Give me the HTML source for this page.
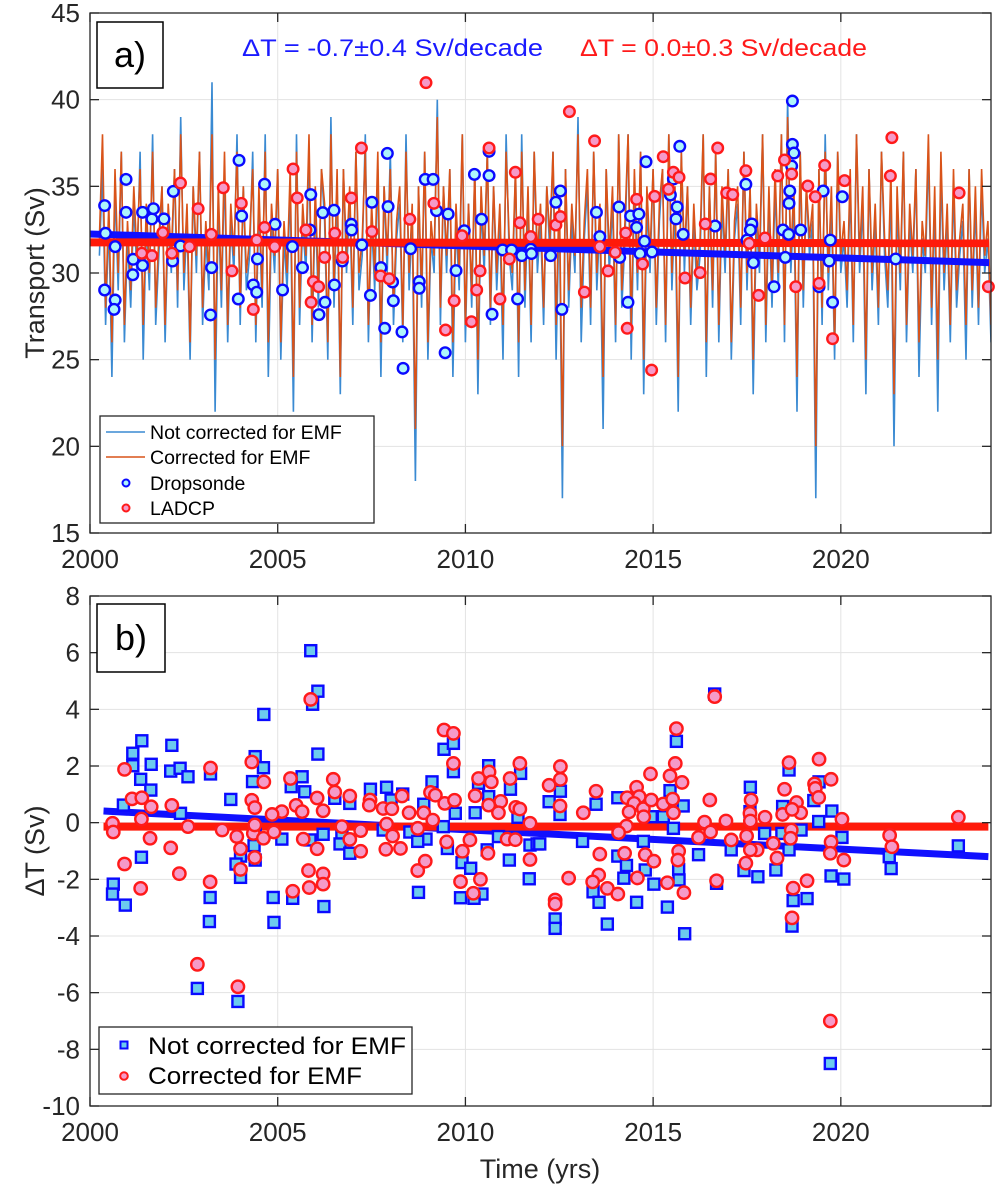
<!DOCTYPE html>
<html><head><meta charset="utf-8">
<style>
html,body{margin:0;padding:0;background:#fff;}
svg{display:block;font-family:"Liberation Sans",Arial,sans-serif;}
</style></head>
<body>
<svg id="fig" width="1000" height="1189" viewBox="0 0 1000 1189" xmlns="http://www.w3.org/2000/svg"></svg>
<script>
// ---------- data ----------
const xTicks = [2000, 2005, 2010, 2015, 2020];
const yTicksA = [15, 20, 25, 30, 35, 40, 45];
const yTicksB = [-10, -8, -6, -4, -2, 0, 2, 4, 6, 8];
const seriesStart = 2000.25;
const seriesStep = 1/12;
const notCorrected = [
31,36,27,33,24,35,29,37,26,32,28,34, 30,37,25,33,29,38,27,31,35,26,33,30,
36,28,39,29,33,25,35,30,37,27,32,29, 41,22,34,28,36,26,33,30,38,27,35,29,
31,37,26,34,28,38,24,33,30,36,25,32, 29,35,22,38,27,33,30,37,26,34,28,36,
33,25,39,28,35,23,36,30,34,27,37,29, 31,38,26,33,29,36,24,35,30,37,27,32,
34,26,38,29,33,18,35,28,37,25,32,30, 40,27,35,30,36,24,33,29,38,26,34,28,
36,23,34,30,37,27,35,29,33,25,38,31, 29,36,24,38,28,34,26,37,30,33,27,35,
31,37,25,34,17,36,28,33,30,39,26,32, 35,27,37,29,33,21,36,30,34,26,38,28,
32,38,25,35,29,37,23,34,30,36,27,33, 36,26,38,29,34,22,37,30,35,27,33,29,
31,38,24,35,28,37,26,34,30,36,25,32, 34,27,37,29,35,23,33,30,38,26,34,28,
35,29,38,26,40,30,34,22,37,28,35,31, 33,17,36,27,38,29,34,25,37,30,32,28,
35,26,38,30,34,23,36,29,33,27,37,31, 28,35,20,34,29,37,26,33,30,36,24,32,
30,37,27,34,22,36,29,33,26,35,28,31, 33,25,36,28,34,27,35,30,32,26,34,29];
const corrected = [
32,38,28,34,26,36,30,37,27,33,29,35, 31,36,27,34,30,37,28,32,35,27,34,31,
36,29,38,30,34,26,35,31,37,28,33,30, 38,25,35,29,37,27,34,31,37,28,35,30,
32,36,27,35,29,37,26,34,31,36,26,33, 30,36,24,37,28,34,31,38,27,35,29,36,
34,26,38,29,36,24,36,31,35,28,37,30, 32,37,27,34,30,37,26,35,31,36,28,33,
35,27,37,30,34,21,35,29,37,26,33,31, 39,28,35,31,36,26,34,30,38,27,34,29,
36,25,35,31,37,28,35,30,34,27,37,32, 30,36,26,37,29,35,27,37,31,34,28,35,
32,37,27,35,20,36,29,34,31,38,28,33, 36,28,37,30,34,24,36,31,35,27,38,29,
33,38,27,36,30,37,25,35,31,36,28,34, 36,27,38,30,35,24,37,31,35,28,34,30,
32,38,26,35,29,37,27,35,31,36,26,33, 35,28,37,30,35,25,34,31,38,27,35,29,
36,30,38,27,39,31,35,24,37,29,35,32, 34,20,36,28,37,30,35,26,37,31,33,29,
36,27,38,31,35,25,36,30,34,28,37,32, 29,36,23,35,30,37,27,34,31,36,26,33,
31,38,28,35,25,37,30,34,27,36,29,32, 34,27,36,29,35,28,36,31,33,27,35,30];

const dropYears = [2000.39,2000.41,2000.39,2000.67,2000.67,2000.64,2000.96,2000.96,2001.15,2001.14,2001.4,2001.4,2001.65,2001.69,2001.97,2002.22,2002.2,2002.41,2003.24,2003.21,2003.97,2004.04,2003.95,2004.35,2004.44,2004.46,2004.65,2004.93,2005.13,2005.39,2005.66,2005.88,2005.86,2006.2,2006.5,2006.51,2006.26,2006.1,2006.72,2006.96,2006.97,2007.24,2007.51,2007.47,2007.92,2007.94,2007.75,2008.06,2008.08,2007.85,2008.31,2008.34,2008.54,2008.93,2009.14,2009.23,2009.54,2008.77,2008.77,2009.46,2009.75,2009.97,2010.24,2010.43,2010.63,2010.63,2010.71,2010.99,2011.23,2011.5,2011.39,2011.74,2011.76,
2012.53,2012.41,2012.27,2012.57,2013.49,2013.58,2014.09,2014.4,2014.62,2014.56,2014.11,2014.33,2014.65,2014.77,2014.97,2014.81,2015.46,2015.54,2015.64,2015.61,2015.8,2015.71,2016.65,2017.47,2017.63,2017.59,2017.5,2017.67,2018.22,2018.46,2018.61,2018.62,2018.64,2018.93,2018.52,2018.71,2018.71,2018.75,2018.69,2019.42,2019.53,2019.69,2019.72,2019.78,2020.04,2021.46];
const dropValues = [33.89,32.29,29.02,31.52,28.44,27.9,35.4,33.5,30.79,29.9,30.44,33.5,33.12,33.71,33.12,34.71,30.69,31.56,30.31,27.58,36.5,33.29,28.5,29.31,28.89,30.81,35.12,32.81,29.02,31.52,30.31,34.52,32.48,33.48,33.62,29.31,28.31,27.6,30.69,32.81,32.48,31.62,34.08,28.71,36.9,33.83,30.31,29.48,28.4,26.81,26.6,24.5,31.4,35.4,35.4,33.6,33.4,29.5,29.12,25.4,30.14,32.44,35.69,33.1,35.62,37.02,27.62,31.33,31.33,31.0,28.5,31.37,31.12,
34.73,34.08,31.0,27.9,33.5,32.1,33.81,33.29,33.4,32.63,30.9,28.31,31.12,31.83,31.21,36.42,34.5,35.42,33.81,33.12,32.23,37.31,32.71,35.12,32.83,32.48,31.9,30.6,29.21,32.48,32.23,34.02,34.73,32.48,30.9,39.92,37.42,36.92,36.17,29.21,34.73,30.69,31.9,28.31,34.4,30.81];

const ladcpYears = [2008.95,2007.23,2005.41,2005.52,2006.96,2010.63,2011.33,2002.41,2003.55,2002.88,2004.03,2009.16,2001.94,2003.23,2004.44,2004.65,2005.75,2006.52,2007.51,2008.52,2009.91,2011.45,2011.74,2011.94,2001.38,2001.65,2002.18,2002.65,2004.92,2006.25,2006.73,2003.78,2004.35,2005.95,2006.09,2005.89,2007.74,2007.97,2010.39,2010.3,2009.7,2010.92,2011.17,2009.47,2010.16,
2012.77,2013.44,2012.41,2012.53,2013.58,2013.17,2013.8,2013.99,2014.27,2014.56,2014.31,2014.72,2014.96,2015.04,2015.27,2015.41,2015.54,2015.69,2015.85,2016.25,2016.39,2016.53,2016.72,2016.96,2017.12,2017.47,2017.56,2017.98,2017.81,2018.32,2018.5,2018.69,2018.8,2019.12,2019.32,2019.42,2019.57,2019.78,2020.1,2021.32,2021.36,2023.15,2023.93];
const ladcpValues = [40.98,37.21,36.0,34.33,34.33,37.21,35.81,35.19,34.92,33.71,34.02,34.02,32.33,32.23,31.9,32.63,32.48,32.29,32.39,33.1,32.15,32.9,32.1,33.1,31.14,31.0,31.14,31.52,31.52,30.9,30.9,30.12,27.9,29.5,29.21,28.31,29.83,29.67,30.12,29.02,28.4,28.5,30.81,26.71,27.19,
39.31,37.62,32.77,33.25,31.52,28.9,30.12,31.19,32.31,34.25,26.81,30.52,24.4,34.42,36.71,34.83,35.81,35.52,29.71,30.02,32.83,35.42,37.21,34.62,34.52,35.9,31.71,32.02,28.71,35.6,36.52,35.71,29.21,35.02,34.4,29.4,36.21,26.21,35.33,35.6,37.81,34.62,29.21];

const trendYearsA = [2000.0, 2023.95];
const trendNotCorrA = [32.25, 30.6];
const trendCorrA = [31.77, 31.72];

const sqYears = [2005.88,2006.07,2005.93,2004.63,2006.07,2001.38,2001.14,2001.14,2001.63,2002.18,2002.15,2002.4,2002.61,2001.35,2001.62,2000.89,2003.21,2004.4,2004.62,2004.33,2003.75,2005.65,2005.36,2005.72,2006.52,2006.92,2007.47,2007.9,2008.33,2008.02,2009.11,2008.89,2009.43,2009.68,2009.68,2009.73,2010.62,2010.35,2010.62,2011.2,2011.47,2010.26,2011.4,2009.41,2007.81,2008.52,2008.95,2008.73,2006.21,2005.11,2006.71,2006.66,2006.92,2009.52,2009.91,2010.14,2010.58,2010.88,2011.17,2011.72,2011.91,2011.7,2010.44,2010.23,2009.87,2008.75,2006.23,2005.4,2004.88,2004.9,2003.2,2003.18,2002.86,2003.94,2004.01,2004.01,2003.89,2004.37,2004.4,2001.37,2000.62,2000.6,2000.94,2004.4,2005.86,2002.41,
2016.64,2015.62,2018.62,2012.53,2012.23,2012.52,2013.48,2014.06,2015.45,2015.8,2015.27,2014.95,2015.54,2014.74,2013.12,2011.98,2014.06,2014.29,2014.22,2014.79,2015.02,2015.68,2015.69,2013.4,2013.56,2014.56,2015.38,2012.39,2012.39,2013.78,2015.84,2016.21,2017.08,2017.59,2017.58,2017.97,2018.45,2018.43,2018.94,2018.62,2017.42,2017.79,2018.27,2018.73,2019.1,2018.7,2019.42,2019.41,2019.28,2019.76,2020.03,2019.74,2020.08,2021.29,2021.34,2023.13,2016.69,2019.72];
const sqValues = [6.07,4.64,4.18,3.82,2.42,2.89,2.45,2.01,2.06,2.73,1.82,1.92,1.62,1.53,1.15,0.62,1.72,2.33,1.94,1.45,0.82,1.62,1.27,1.09,0.86,0.68,1.18,1.25,1.01,0.8,1.44,0.65,2.59,2.8,1.8,0.33,2.01,1.39,0.92,1.18,1.74,0.35,0.19,-0.14,-0.26,-0.33,-0.58,-0.66,-0.41,-0.58,-0.49,-0.75,-1.08,-0.91,-1.41,-1.61,-0.96,-0.49,-1.32,-0.79,-0.75,-1.98,-2.52,-2.67,-2.65,-2.46,-2.96,-2.67,-2.64,-3.52,-2.64,-3.49,-5.85,-6.31,-1.93,-1.18,-1.46,-0.81,-1.32,-1.22,-2.17,-2.52,-2.91,-0.26,-0.61,0.33,
4.54,2.87,1.86,1.11,0.74,0.29,0.65,0.88,1.13,0.59,0.21,0.21,-0.2,-0.66,-0.66,-0.75,-1.18,-1.51,-1.96,-1.67,-2.17,-1.65,-2.02,-2.44,-2.81,-2.81,-2.98,-3.4,-3.73,-3.58,-3.92,-1.13,-0.96,1.25,0.39,-0.38,0.57,-0.38,-0.26,-0.96,-1.69,-1.91,-1.67,-2.75,-2.68,-3.65,1.44,0.04,0.78,0.41,-0.52,-1.88,-1.99,-1.2,-1.62,-0.82,-2.14,-8.5];

const ciYears = [2005.88,2009.43,2009.68,2009.68,2004.31,2000.92,2003.21,2004.63,2005.34,2006.48,2006.52,2006.92,2006.05,2007.46,2007.44,2007.81,2008.04,2008.31,2008.5,2008.89,2009.13,2009.07,2009.2,2009.45,2009.71,2010.35,2010.63,2010.69,2011.19,2011.45,2010.26,2010.62,2010.94,2010.88,2011.34,2011.45,2001.12,2001.38,2001.63,2002.18,2004.31,2004.39,2005.11,2004.85,2005.49,2005.65,2006.21,2000.6,2000.62,2001.37,2001.6,2002.15,2002.61,2003.52,2003.91,2004.01,2004.35,2004.62,2004.9,2005.68,2006.05,2006.71,2006.92,2007.21,2007.21,2007.88,2008.27,2008.06,2008.73,2009.5,2009.92,2010.12,2010.6,2011.11,2011.33,2011.72,2011.72,2000.92,2002.38,2003.2,2004.01,2004.39,2005.82,2006.21,2006.21,2005.84,2005.4,2001.35,2008.73,2008.93,2009.87,2010.21,2010.4,2002.86,2003.94,2004.39,2007.9,
2016.64,2015.62,2015.59,2018.62,2019.42,2012.53,2012.53,2012.23,2012.52,2013.14,2013.48,2014.31,2014.56,2014.63,2014.49,2014.36,2014.74,2014.75,2014.95,2014.93,2015.27,2015.45,2015.52,2015.77,2015.54,2016.51,2016.37,2016.94,2017.61,2017.58,2017.59,2017.98,2018.5,2018.45,2018.82,2018.93,2018.7,2019.3,2019.32,2019.41,2019.74,2020.03,2023.13,2014.29,2014.08,2016.53,2016.21,2017.08,2017.49,2018.2,2018.68,2018.66,2021.3,2021.36,2019.74,2019.72,2020.08,2018.3,2017.77,2017.47,2013.58,2014.24,2014.79,2015.02,2015.68,2015.66,2012.75,2013.55,2013.39,2013.78,2014.06,2014.58,2015.38,2015.82,2016.69,2012.39,2012.39,2018.73,2019.1,2018.7,2017.59,2019.72];
const ciValues = [4.35,3.27,3.15,2.09,2.14,1.88,1.93,1.44,1.56,1.53,1.08,0.94,0.87,0.8,0.62,0.5,0.49,0.94,0.35,0.35,0.09,1.07,0.97,0.68,0.79,1.56,1.79,1.44,1.56,2.09,0.95,0.62,0.75,0.35,0.54,0.48,0.84,0.88,0.56,0.61,0.79,0.53,0.39,0.29,0.61,0.39,0.42,-0.02,-0.33,0.13,-0.55,-0.89,-0.14,-0.26,-0.49,-0.92,-0.38,-0.55,-0.33,-0.58,-0.92,-0.14,-0.59,-1.01,-0.28,-0.94,-0.91,-0.47,-0.2,-0.68,-1.01,-0.61,-1.08,-0.58,-0.6,-1.3,-0.02,-1.46,-1.8,-2.09,-1.65,-1.23,-1.69,-1.81,-2.17,-2.29,-2.42,-2.32,-1.69,-1.36,-2.08,-2.49,-2.0,-5.0,-5.79,-0.08,-0.05,
4.45,3.32,2.09,2.12,2.24,1.98,1.53,1.32,0.59,0.35,1.11,0.88,1.25,0.92,0.68,0.38,0.49,0.21,0.8,1.72,0.66,1.65,0.83,1.42,0.35,0.8,0.02,0.06,0.8,0.33,0.06,0.19,1.18,0.29,0.71,0.35,0.47,1.37,1.21,0.89,1.53,0.12,0.19,-0.12,-0.35,-0.33,-0.52,-0.61,-0.47,-0.73,-0.26,-0.55,-0.45,-0.85,-0.68,-1.08,-1.32,-1.25,-0.96,-1.43,-1.11,-1.08,-1.13,-1.36,-1.01,-1.32,-1.96,-1.85,-2.09,-2.32,-2.52,-1.95,-2.12,-2.47,-2.05,-2.73,-2.87,-2.31,-2.05,-3.36,-0.96,-7.0];

const trendYearsB = [2000.36, 2023.93];
const trendNotCorrB = [0.41, -1.2];
const trendCorrB = [-0.14, -0.14];

// ---------- geometry ----------
const NS = "http://www.w3.org/2000/svg";
const svg = document.getElementById('fig');
const X0 = 90, X1 = 991, XMIN = 2000, XMAX = 2024;
const A = {top: 13, bottom: 533, min: 15, max: 45};
const B = {top: 596, bottom: 1106, min: -10, max: 8};
function sx(t){ return X0 + (t - XMIN) / (XMAX - XMIN) * (X1 - X0); }
function syA(v){ return A.bottom - (v - A.min) / (A.max - A.min) * (A.bottom - A.top); }
function syB(v){ return B.bottom - (v - B.min) / (B.max - B.min) * (B.bottom - B.top); }
function mk(tag, attrs, parent){
  const e = document.createElementNS(NS, tag);
  for (const k in attrs) e.setAttribute(k, attrs[k]);
  (parent || svg).appendChild(e);
  return e;
}
function grp(name){
  const g = mk('g', {});
  
  
  return g;
}

function axesFrame(P, sy, yTicks, pname){
  const g = grp(pname + '-grid');
  xTicks.forEach(t => {
    const l = mk('line', {x1: sx(t), x2: sx(t), y1: P.top, y2: P.bottom, stroke: '#e3e3e3', 'stroke-width': 1}, g);
    
    
  });
  yTicks.forEach(v => {
    const l = mk('line', {x1: X0, x2: X1, y1: sy(v), y2: sy(v), stroke: '#e3e3e3', 'stroke-width': 1}, g);
    
    
  });
}
function axesBox(P, sy, yTicks, pname){
  const g = grp(pname + '-axes');
  const r = mk('rect', {x: X0, y: P.top, width: X1 - X0, height: P.bottom - P.top, fill: 'none', stroke: '#262626', 'stroke-width': 1.3}, g);
  
  
  xTicks.forEach(t => {
    const a = mk('line', {x1: sx(t), x2: sx(t), y1: P.bottom, y2: P.bottom - 9, stroke: '#262626', 'stroke-width': 1.3}, g);
    
    
    const b = mk('line', {x1: sx(t), x2: sx(t), y1: P.top, y2: P.top + 9, stroke: '#262626', 'stroke-width': 1.3}, g);
    
    
    const tx = mk('text', {x: sx(t), y: P.bottom + 35, 'text-anchor': 'middle', 'font-size': 26, fill: '#262626'}, g);
    tx.textContent = t;
    
    
  });
  yTicks.forEach(v => {
    const a = mk('line', {x1: X0, x2: X0 + 9, y1: sy(v), y2: sy(v), stroke: '#262626', 'stroke-width': 1.3}, g);
    
    
    const b = mk('line', {x1: X1, x2: X1 - 9, y1: sy(v), y2: sy(v), stroke: '#262626', 'stroke-width': 1.3}, g);
    
    
    const tx = mk('text', {x: 80, y: sy(v) + 9, 'text-anchor': 'end', 'font-size': 26, fill: '#262626'}, g);
    tx.textContent = v;
    
    
  });
}

// ---------- panel a ----------
axesFrame(A, syA, yTicksA, 'panel-a');
const clipA = mk('clipPath', {id: 'clipA'});
mk('rect', {x: X0, y: A.top, width: X1 - X0, height: A.bottom - A.top}, clipA);
const clipB = mk('clipPath', {id: 'clipB'});
mk('rect', {x: X0, y: B.top, width: X1 - X0, height: B.bottom - B.top}, clipB);

function seriesPath(arr){
  let d = '';
  arr.forEach((v, i) => {
    const t = seriesStart + i * seriesStep;
    d += (i ? 'L' : 'M') + sx(t).toFixed(1) + ',' + syA(v).toFixed(1);
  });
  return d;
}
const gs = grp('panel-a-series');
gs.setAttribute('clip-path', 'url(#clipA)');
const pBlue = mk('path', {d: seriesPath(notCorrected), fill: 'none', stroke: '#3a8ad2', 'stroke-width': 1.6}, gs);


const pRed = mk('path', {d: seriesPath(corrected), fill: 'none', stroke: '#d95319', 'stroke-width': 1.6}, gs);



const tA = grp('panel-a-trends');
tA.setAttribute('clip-path', 'url(#clipA)');
const tlb = mk('line', {x1: sx(trendYearsA[0]), y1: syA(trendNotCorrA[0]), x2: sx(trendYearsA[1]), y2: syA(trendNotCorrA[1]), stroke: '#1010ff', 'stroke-width': 7}, tA);


const tlr = mk('line', {x1: sx(trendYearsA[0]), y1: syA(trendCorrA[0]), x2: sx(trendYearsA[1]), y2: syA(trendCorrA[1]), stroke: '#ff1a0a', 'stroke-width': 8}, tA);



const mA = grp('panel-a-markers');
dropYears.forEach((t, i) => {
  const c = mk('circle', {cx: sx(t), cy: syA(dropValues[i]), r: 5.3, fill: '#aef5fb', stroke: '#0a0aff', 'stroke-width': 2.4}, mA);
  
  
});
ladcpYears.forEach((t, i) => {
  const c = mk('circle', {cx: sx(t), cy: syA(ladcpValues[i]), r: 5.3, fill: '#f59ac8', stroke: '#ff1a1a', 'stroke-width': 2.4}, mA);
  
  
});
axesBox(A, syA, yTicksA, 'panel-a');

// ---------- panel b ----------
axesFrame(B, syB, yTicksB, 'panel-b');
const tB = grp('panel-b-trends');
tB.setAttribute('clip-path', 'url(#clipB)');
const tbb = mk('line', {x1: sx(trendYearsB[0]), y1: syB(trendNotCorrB[0]), x2: sx(trendYearsB[1]), y2: syB(trendNotCorrB[1]), stroke: '#1010ff', 'stroke-width': 7}, tB);


const tbr = mk('line', {x1: sx(trendYearsB[0]), y1: syB(trendCorrB[0]), x2: sx(trendYearsB[1]), y2: syB(trendCorrB[1]), stroke: '#ff1a0a', 'stroke-width': 8}, tB);



const mB = grp('panel-b-markers');
sqYears.forEach((t, i) => {
  const s = mk('rect', {x: sx(t) - 5.5, y: syB(sqValues[i]) - 5.5, width: 11, height: 11, fill: '#6ccbee', stroke: '#0a0aff', 'stroke-width': 2.4}, mB);
  
  
});
ciYears.forEach((t, i) => {
  const c = mk('circle', {cx: sx(t), cy: syB(ciValues[i]), r: 6.2, fill: '#f59ac8', stroke: '#ff1a1a', 'stroke-width': 2.4}, mB);
  
  
});
axesBox(B, syB, yTicksB, 'panel-b');

// ---------- labels ----------
function text(str, attrs, name){
  const t = mk('text', attrs);
  t.textContent = str;
  
  
  return t;
}
text('Transport (Sv)', {x: 0, y: 0, transform: 'translate(44,273) rotate(-90)', 'text-anchor': 'middle', 'font-size': 27, fill: '#262626'}, 'y-axis-title-a');
text('ΔT (Sv)', {x: 0, y: 0, transform: 'translate(44,851) rotate(-90)', 'text-anchor': 'middle', 'font-size': 27, fill: '#262626'}, 'y-axis-title-b');
text('Time (yrs)', {x: 540, y: 1178, 'text-anchor': 'middle', 'font-size': 27, fill: '#262626'}, 'x-axis-title');
text('ΔT = -0.7±0.4 Sv/decade', {x: 242, y: 56, 'font-size': 24, fill: '#1a1aff', textLength: 301, lengthAdjust: 'spacingAndGlyphs'}, 'trend-annotation-not-corrected');
text('ΔT = 0.0±0.3 Sv/decade', {x: 580, y: 56, 'font-size': 24, fill: '#ff1a1a', textLength: 287, lengthAdjust: 'spacingAndGlyphs'}, 'trend-annotation-corrected');

const pa = mk('rect', {x: 97, y: 22, width: 66, height: 66, fill: '#fff', stroke: '#000', 'stroke-width': 1.5});


text('a)', {x: 130, y: 67, 'text-anchor': 'middle', 'font-size': 36, fill: '#000'}, 'panel-a-label');
const pb = mk('rect', {x: 97, y: 604, width: 68, height: 68, fill: '#fff', stroke: '#000', 'stroke-width': 1.5});


text('b)', {x: 131, y: 650, 'text-anchor': 'middle', 'font-size': 36, fill: '#000'}, 'panel-b-label');

// legend a
const la = grp('legend-a');
const lab = mk('rect', {x: 100, y: 416, width: 274, height: 107, fill: '#fff', stroke: '#262626', 'stroke-width': 1.3}, la);


const l1 = mk('line', {x1: 106, x2: 145, y1: 432, y2: 432, stroke: '#3a8ad2', 'stroke-width': 1.5}, la);


const l2 = mk('line', {x1: 106, x2: 145, y1: 457, y2: 457, stroke: '#d95319', 'stroke-width': 1.5}, la);


const l3 = mk('circle', {cx: 126, cy: 483, r: 3.5, fill: '#aef5fb', stroke: '#0a0aff', 'stroke-width': 2}, la);


const l4 = mk('circle', {cx: 126, cy: 508, r: 3.5, fill: '#f59ac8', stroke: '#ff1a1a', 'stroke-width': 2}, la);


text('Not corrected for EMF', {x: 150, y: 439, 'font-size': 19.5, fill: '#000'}, 'legend-entry-not-corrected');
text('Corrected for EMF', {x: 150, y: 464, 'font-size': 19.5, fill: '#000'}, 'legend-entry-corrected');
text('Dropsonde', {x: 150, y: 490, 'font-size': 19.5, fill: '#000'}, 'legend-entry-dropsonde');
text('LADCP', {x: 150, y: 515, 'font-size': 19.5, fill: '#000'}, 'legend-entry-ladcp');

// legend b
const lb = grp('legend-b');
const lbb = mk('rect', {x: 99, y: 1027, width: 313, height: 67, fill: '#fff', stroke: '#262626', 'stroke-width': 1.3}, lb);


const m1 = mk('rect', {x: 120.5, y: 1041.5, width: 7, height: 7, fill: '#6ccbee', stroke: '#0a0aff', 'stroke-width': 2}, lb);


const m2 = mk('circle', {cx: 124, cy: 1076, r: 3.8, fill: '#f59ac8', stroke: '#ff1a1a', 'stroke-width': 2}, lb);


text('Not corrected for EMF', {x: 148, y: 1054, 'font-size': 24, fill: '#000', textLength: 258, lengthAdjust: 'spacingAndGlyphs'}, 'legend-entry-not-corrected');
text('Corrected for EMF', {x: 148, y: 1084, 'font-size': 24, fill: '#000', textLength: 214, lengthAdjust: 'spacingAndGlyphs'}, 'legend-entry-corrected');
</script>
</body></html>
